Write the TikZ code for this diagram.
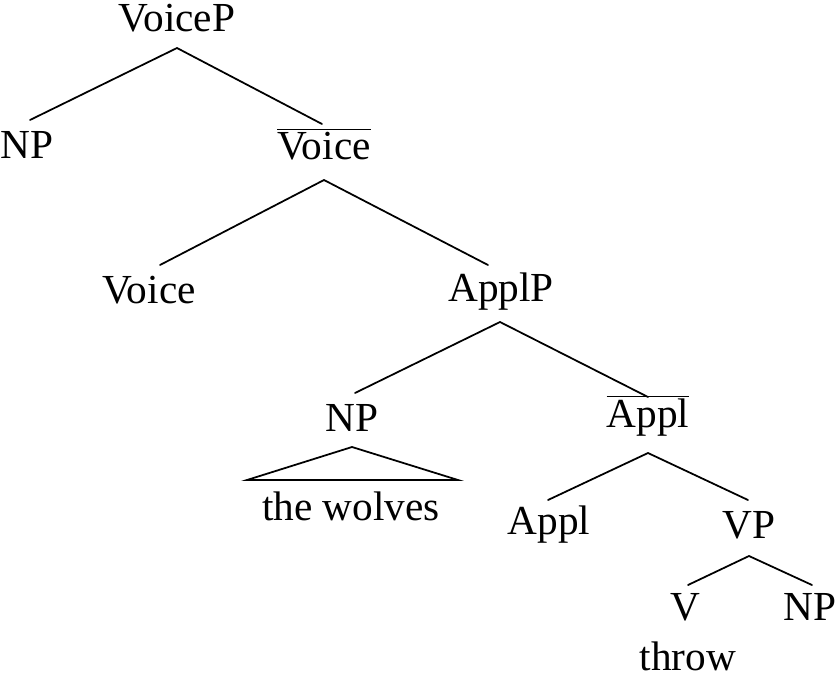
\documentclass[tikz,border=0pt]{standalone}
\usepackage{fontspec}
\setmainfont{Liberation Serif}
\usetikzlibrary{calc}
\def\fScale{\fontsize{23.5}{27}\selectfont}
\tikzset{lbl/.style={inner sep=0,font=\fScale}}
\tikzset{br/.style={black,line width=1pt,line cap=round}}
\newcommand{\barLbl}[1]{$\overline{\mbox{#1}}$}
\begin{document}
\begin{tikzpicture}[x=0.02cm,y=-0.02cm]
\useasboundingbox (0,0) rectangle (838,673);
\node[lbl] (voicep) at (177,18) {VoiceP};
\node[lbl] (np1) at (27,145) {NP};
\node[lbl] (voicebar) at (324,144) {\barLbl{Voice}};
\node[lbl] (voice) at (149,290) {Voice};
\node[lbl] (applp) at (501,292) {ApplP};
\node[lbl] (np2) at (352,418) {NP};
\node[lbl] (applbar) at (648,416) {\barLbl{Appl}};
\node[lbl] (wolves) at (351,506) {the wolves};
\node[lbl] (appl) at (549,525) {Appl};
\node[lbl] (vp) at (749,525) {VP};
\node[lbl] (v) at (685,607) {V};
\node[lbl] (np3) at (810,607) {NP};
\node[lbl] (throw) at (688,656) {throw};
% branches
\coordinate (a1) at (177,48);\coordinate (a2) at (324,180);\coordinate (a3) at (500,322);
\coordinate (a4) at (648,453);\coordinate (a5) at (749,556);\coordinate (a6) at (352,447);
\draw[br] (a1)--(30,120);\draw[br] (a1)--(322,124);
\draw[br] (a2)--(160,265);\draw[br] (a2)--(488,265);
\draw[br] (a3)--(355,393);\draw[br] (a3)--(648,397);
\draw[br] (a4)--(548,500);\draw[br] (a4)--(748,500);
\draw[br] (a5)--(688,585);\draw[br] (a5)--(812,585);
\draw[br] (a6)--(247,480)--(458,480)--cycle;
\end{tikzpicture}
\end{document}
